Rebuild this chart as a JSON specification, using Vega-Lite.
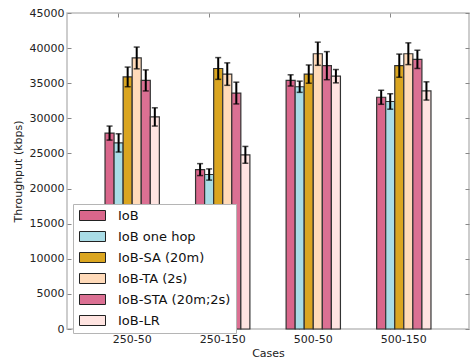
{
  "$schema": "https://vega.github.io/schema/vega-lite/v6.json",
  "width": 402,
  "height": 316,
  "autosize": "none",
  "padding": {"left": 67, "top": 13, "right": 2, "bottom": 35},
  "background": "white",
  "config": {
    "font": "DejaVu Sans",
    "view": {"stroke": "#bdbdbd", "strokeWidth": 1.5},
    "axis": {"labelFont": "DejaVu Sans", "titleFont": "DejaVu Sans", "labelFontSize": 11, "titleFontSize": 11, "titleFontWeight": "normal", "labelColor": "#222", "titleColor": "#222", "grid": false, "domain": false, "tickColor": "#888", "tickWidth": 1}
  },
  "data": {"values": [
    {"case": "250-50", "series": "IoB", "value": 27900, "err": 1000},
    {"case": "250-50", "series": "IoB one hop", "value": 26500, "err": 1300},
    {"case": "250-50", "series": "IoB-SA (20m)", "value": 35900, "err": 1400},
    {"case": "250-50", "series": "IoB-TA (2s)", "value": 38600, "err": 1550},
    {"case": "250-50", "series": "IoB-STA (20m;2s)", "value": 35400, "err": 1500},
    {"case": "250-50", "series": "IoB-LR", "value": 30200, "err": 1300},
    {"case": "250-150", "series": "IoB", "value": 22700, "err": 850},
    {"case": "250-150", "series": "IoB one hop", "value": 22000, "err": 800},
    {"case": "250-150", "series": "IoB-SA (20m)", "value": 37100, "err": 1550},
    {"case": "250-150", "series": "IoB-TA (2s)", "value": 36300, "err": 1600},
    {"case": "250-150", "series": "IoB-STA (20m;2s)", "value": 33600, "err": 1550},
    {"case": "250-150", "series": "IoB-LR", "value": 24800, "err": 1200},
    {"case": "500-50", "series": "IoB", "value": 35400, "err": 800},
    {"case": "500-50", "series": "IoB one hop", "value": 34500, "err": 800},
    {"case": "500-50", "series": "IoB-SA (20m)", "value": 36300, "err": 1300},
    {"case": "500-50", "series": "IoB-TA (2s)", "value": 39200, "err": 1650},
    {"case": "500-50", "series": "IoB-STA (20m;2s)", "value": 37500, "err": 2000},
    {"case": "500-50", "series": "IoB-LR", "value": 36000, "err": 950},
    {"case": "500-150", "series": "IoB", "value": 33000, "err": 1000},
    {"case": "500-150", "series": "IoB one hop", "value": 32400, "err": 1100},
    {"case": "500-150", "series": "IoB-SA (20m)", "value": 37500, "err": 1650},
    {"case": "500-150", "series": "IoB-TA (2s)", "value": 39200, "err": 1550},
    {"case": "500-150", "series": "IoB-STA (20m;2s)", "value": 38400, "err": 1300},
    {"case": "500-150", "series": "IoB-LR", "value": 33900, "err": 1300}
  ]},
  "encoding": {
    "x": {"field": "case", "type": "nominal", "sort": ["250-50", "250-150", "500-50", "500-150"],
      "scale": {"paddingInner": 0.4, "paddingOuter": 0.42}},
    "xOffset": {"field": "series", "type": "nominal", "sort": ["IoB", "IoB one hop", "IoB-SA (20m)", "IoB-TA (2s)", "IoB-STA (20m;2s)", "IoB-LR"], "scale": {"paddingInner": 0, "paddingOuter": 0}}
  },
  "layer": [
    {
      "mark": {"type": "bar", "stroke": "#333", "strokeWidth": 1.2},
      "encoding": {
        "x": {"field": "case", "type": "nominal", "sort": ["250-50", "250-150", "500-50", "500-150"],
          "axis": {"title": "Cases", "labelAngle": 0, "orient": "bottom", "bandPosition": 0.25, "tickSize": -4, "labelPadding": 8, "titlePadding": 3}},
        "y": {"field": "value", "type": "quantitative", "scale": {"domain": [0, 45000], "nice": false},
          "axis": {"title": "Throughput (kbps)", "values": [0,5000,10000,15000,20000,25000,30000,35000,40000,45000], "tickSize": -4, "labelPadding": 7, "titlePadding": 6, "format": "d"}},
        "fill": {"field": "series", "type": "nominal",
          "scale": {"domain": ["IoB", "IoB one hop", "IoB-SA (20m)", "IoB-TA (2s)", "IoB-STA (20m;2s)", "IoB-LR"],
            "range": ["#d9668b", "#a9dce6", "#daa520", "#ffdab9", "#db7093", "#ffe4e1"]},
          "legend": {"title": null, "orient": "none", "legendX": 6, "legendY": 191,
            "fillColor": "white", "strokeColor": "#b5b5b5", "padding": 5, "cornerRadius": 0,
            "symbolType": "M-1,-1H4.2V1H-1Z", "symbolSize": 100, "symbolStrokeColor": "#222", "symbolStrokeWidth": 1, "symbolOpacity": 1,
            "labelFontSize": 13, "labelFont": "DejaVu Sans", "labelColor": "#111", "labelOffset": 27, "rowPadding": 6, "labelLimit": 300}}
      }
    },
    {
      "mark": {"type": "errorbar", "ticks": {"size": 6, "thickness": 1.5, "color": "black"}, "rule": {"strokeWidth": 2, "color": "black"}},
      "encoding": {
        "x": {"field": "case", "type": "nominal", "sort": ["250-50", "250-150", "500-50", "500-150"],
          "axis": {"orient": "top", "labels": false, "title": null, "bandPosition": 0.25, "tickSize": -4}},
        "y": {"field": "value", "type": "quantitative",
          "axis": {"orient": "right", "labels": false, "title": null, "values": [0,5000,10000,15000,20000,25000,30000,35000,40000,45000], "tickSize": -4}},
        "yError": {"field": "err"}
      }
    }
  ],
  "resolve": {"axis": {"x": "independent", "y": "independent"}}
}
